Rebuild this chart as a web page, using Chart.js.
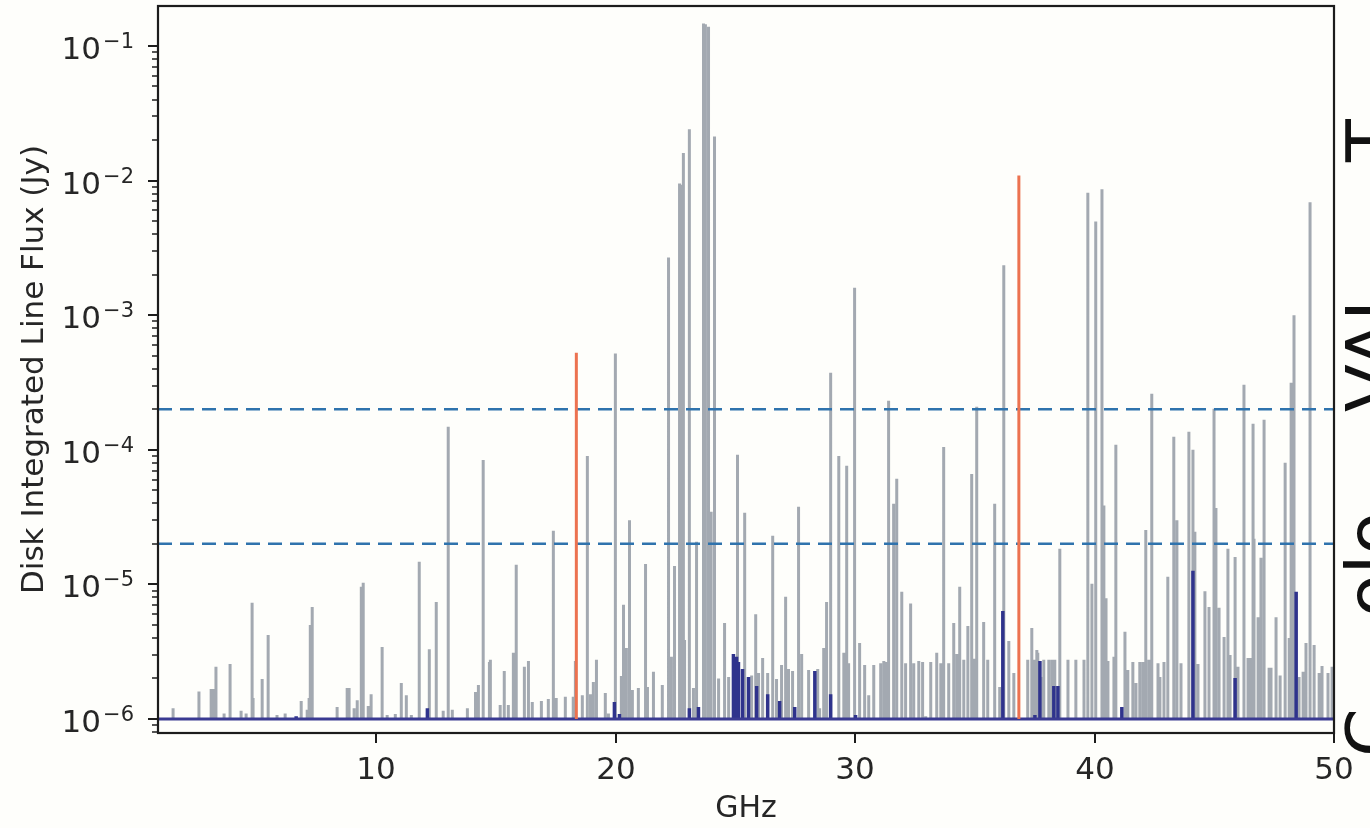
<!DOCTYPE html>
<html><head><meta charset="utf-8">
<script src="https://cdn.jsdelivr.net/npm/chart.js@4.4.0/dist/chart.umd.min.js"></script>
<style>html,body{margin:0;padding:0;background:#fefefb;overflow:hidden}</style>
</head><body>
<canvas id="c" width="1370" height="828"></canvas>
<script>
// ---- data (GHz, Jy) ----
const grayFreq = [1.52,2.60,3.11,3.19,3.31,3.65,3.90,4.36,4.57,4.82,4.86,5.24,5.49,5.86,6.20,6.87,7.12,7.20,7.25,7.33,
8.37,8.79,8.87,9.08,9.21,9.38,9.46,9.67,9.79,10.25,10.46,10.80,11.05,11.26,11.47,11.80,12.22,12.51,12.80,13.01,
13.18,13.81,14.15,14.27,14.47,14.73,14.77,15.18,15.35,15.52,15.73,15.85,16.19,16.36,16.52,16.90,17.19,17.40,17.52,17.90,
18.23,18.32,18.61,18.82,18.95,19.07,19.20,19.57,19.70,19.99,20.24,20.33,20.45,20.58,20.70,20.95,21.25,21.33,21.58,21.95,
22.21,22.33,22.46,22.67,22.75,22.83,22.88,23.08,23.25,23.38,23.67,23.75,23.88,23.99,24.13,24.30,24.55,24.72,25.09,25.39,
25.68,25.85,25.97,26.14,26.35,26.56,26.72,26.93,27.10,27.22,27.39,27.64,27.77,28.06,28.44,28.52,28.69,28.81,28.98,29.32,
29.53,29.65,29.73,29.98,30.19,30.40,30.57,30.78,31.07,31.20,31.28,31.40,31.61,31.74,31.95,32.11,32.32,32.45,32.66,32.82,
32.95,33.16,33.41,33.58,33.70,33.91,34.12,34.25,34.37,34.54,34.71,34.87,34.96,35.08,35.37,35.54,35.83,36.04,36.21,36.42,
36.63,37.21,37.38,37.47,37.59,37.63,37.84,37.88,38.09,38.22,38.34,38.55,38.89,39.22,39.56,39.72,39.89,40.05,40.31,40.39,
40.48,40.56,40.81,40.89,41.27,41.39,41.60,41.73,41.89,42.02,42.14,42.27,42.39,42.65,42.73,42.90,43.06,43.31,43.44,43.61,
43.94,44.11,44.19,44.32,44.61,44.78,44.99,45.07,45.20,45.41,45.57,45.66,45.87,45.99,46.24,46.41,46.53,46.62,46.66,46.83,
46.95,47.08,47.29,47.37,47.58,47.75,47.96,48.13,48.21,48.33,48.54,48.71,48.83,49.00,49.17,49.38,49.50,49.75,49.92];
const grayFlux = [1.2e-6,1.6e-6,1.67e-6,1.67e-6,2.44e-6,1.1e-6,2.56e-6,1.15e-6,1.1e-6,7.3e-6,1.43e-6,1.98e-6,4.2e-6,1.07e-6,1.1e-6,1.36e-6,1.17e-6,1.43e-6,5.0e-6,6.8e-6,
1.23e-6,1.7e-6,1.7e-6,1.2e-6,1.38e-6,9.6e-6,1.03e-5,1.25e-6,1.53e-6,3.43e-6,1.07e-6,1.09e-6,1.85e-6,1.5e-6,1.07e-6,1.47e-5,3.3e-6,7.4e-6,1.15e-6,1.48e-4,
1.17e-6,1.2e-6,1.59e-6,1.79e-6,8.4e-5,2.65e-6,2.75e-6,1.27e-6,2.27e-6,1.27e-6,3.1e-6,1.4e-5,2.44e-6,2.7e-6,1.34e-6,1.36e-6,1.41e-6,2.5e-5,1.43e-6,1.46e-6,
1.46e-6,2.7e-6,1.5e-6,9.0e-5,1.53e-6,1.88e-6,2.75e-6,1.56e-6,1.1e-6,5.2e-4,2.09e-6,7.05e-6,3.37e-6,3.0e-5,1.64e-6,1.7e-6,1.42e-5,1.73e-6,2.24e-6,1.79e-6,
2.68e-3,2.9e-6,1.37e-5,9.5e-3,9.3e-3,1.6e-2,3.87e-6,2.4e-2,1.7e-6,2.07e-5,0.147,0.145,0.139,3.46e-5,2.12e-2,2.0e-6,5.17e-6,2.05e-6,9.2e-5,3.4e-5,
2.1e-6,6.0e-6,2.2e-6,2.84e-6,2.2e-6,2.3e-5,1.98e-6,2.52e-6,8.1e-6,2.35e-6,2.27e-6,3.77e-5,3.04e-6,2.31e-6,2.35e-6,1.2e-6,3.37e-6,7.4e-6,3.74e-4,9.0e-5,
3.1e-6,7.6e-5,2.6e-6,1.6e-3,3.67e-6,2.52e-6,1.5e-6,2.52e-6,2.6e-6,2.7e-6,2.65e-6,2.31e-4,3.97e-5,6.1e-5,8.8e-6,2.6e-6,7.2e-6,2.6e-6,2.7e-6,2.65e-6,
1.05e-6,2.65e-6,3.1e-6,2.6e-6,1.05e-4,2.6e-6,5.17e-6,3.04e-6,9.6e-6,2.75e-6,4.9e-6,6.6e-5,2.8e-6,2.09e-4,5.26e-6,2.75e-6,3.97e-5,1.73e-6,2.35e-3,3.8e-6,
2.2e-6,2.75e-6,4.75e-6,2.75e-6,3.26e-6,3.1e-6,2.05e-6,2.75e-6,2.75e-6,2.75e-6,2.75e-6,1.84e-5,2.75e-6,2.75e-6,2.75e-6,8.1e-3,1.01e-5,4.96e-3,8.6e-3,3.85e-5,
7.9e-6,2.7e-6,2.9e-6,1.09e-4,4.44e-6,2.31e-6,2.65e-6,1.85e-6,2.65e-6,2.65e-6,2.54e-5,2.75e-6,2.61e-4,2.6e-6,2.05e-6,2.65e-6,1.14e-5,1.25e-4,3.0e-5,2.6e-6,
1.36e-4,1.0e-4,2.46e-5,2.56e-6,8.9e-6,6.8e-6,2.02e-4,3.7e-5,6.7e-6,4.07e-6,1.84e-5,2.99e-6,1.6e-5,2.44e-6,3.04e-4,2.84e-6,2.84e-6,1.56e-4,2.18e-5,5.7e-6,
1.58e-5,1.67e-4,2.4e-6,2.4e-6,5.7e-6,2.1e-6,8.0e-5,4.0e-6,3.15e-4,1.0e-3,2.05e-6,2.24e-6,3.67e-6,6.9e-3,3.55e-6,2.2e-6,2.48e-6,2.2e-6,2.44e-6];

const darkFreq = [6.66,12.14,19.95,20.16,23.08,23.46,24.92,25.05,25.13,25.30,25.55,25.89,26.35,26.85,27.48,28.32,28.98,30.02,
36.17,37.51,37.72,38.30,38.47,41.14,44.11,45.87,48.42];
const darkFlux = [1.05e-6,1.2e-6,1.34e-6,1.09e-6,1.2e-6,1.23e-6,3.04e-6,2.9e-6,2.65e-6,2.35e-6,2.05e-6,1.76e-6,1.53e-6,1.36e-6,1.23e-6,2.27e-6,1.53e-6,1.07e-6,
6.35e-6,1.07e-6,2.7e-6,1.76e-6,1.76e-6,1.23e-6,1.26e-5,2.02e-6,8.8e-6];

const orangeFreq = [18.36, 36.84];
const orangeFlux = [5.26e-4, 1.09e-2];

const thresholdFlux = [2e-4, 2e-5];
const baseFlux = 1e-6;
const xRange = [0.89, 50];
const yRange = [7.87e-7, 0.198];
const xTickValues = [10, 20, 30, 40, 50];
const yTickExponents = [-6, -5, -4, -3, -2, -1];

// ---- build line data for spikes ----
function spikes(freqs, fluxes) {
  const pts = [];
  freqs.forEach((f, i) => { pts.push({x: f, y: baseFlux}, {x: f, y: fluxes[i]}, {x: f, y: null}); });
  return pts;
}
function hline(v) { return [{x: xRange[0], y: v}, {x: xRange[1], y: v}]; }

const TXT = '#262626';
const FONT = '"DejaVu Sans", sans-serif';
const supMap = {'-':'\u2212','0':'0','1':'1','2':'2','3':'3','4':'4','5':'5','6':'6','7':'7','8':'8','9':'9'};

const deco = {
  id: 'deco',
  beforeDraw(chart) {
    const c = chart.ctx;
    c.save(); c.fillStyle = '#fefefb'; c.fillRect(0, 0, chart.width, chart.height); c.restore();
  },
  afterDraw(chart) {
    const c = chart.ctx, a = chart.chartArea;
    const ys = chart.scales.y, xs = chart.scales.x;
    c.save();
    c.strokeStyle = '#1c1c1c';
    // y ticks (major + minor)
    for (let e = -7; e <= 0; e++) {
      for (let m = 1; m <= 9; m++) {
        const v = m * Math.pow(10, e);
        if (v < ys.min || v > ys.max) continue;
        const y = Math.round(ys.getPixelForValue(v));
        const len = m === 1 ? 10 : 6;
        c.lineWidth = m === 1 ? 2 : 1.5;
        c.beginPath(); c.moveTo(a.left - len, y); c.lineTo(a.left, y); c.stroke();
      }
    }
    // y labels 10^e
    c.fillStyle = TXT;
    c.textBaseline = 'alphabetic';
    c.textAlign = 'left';
    yTickExponents.forEach(e => {
      const y = ys.getPixelForValue(Math.pow(10, e));
      const sup = String(e).split('').map(ch => supMap[ch]).join('');
      c.font = '31px ' + FONT;
      const wMain = c.measureText('10').width;
      c.font = '21px ' + FONT;
      const wSup = c.measureText(sup).width;
      const x0 = 134 - wMain - wSup - 2;
      c.font = '31px ' + FONT;
      c.fillText('10', x0, y + 13);
      c.font = '21px ' + FONT;
      c.fillText(sup, x0 + wMain + 2, y + 2);
    });
    // x ticks and labels
    c.lineWidth = 2;
    c.font = '31px ' + FONT;
    c.textAlign = 'center';
    xTickValues.forEach(v => {
      const x = Math.round(xs.getPixelForValue(v));
      c.beginPath(); c.moveTo(x, a.bottom); c.lineTo(x, a.bottom + 10); c.stroke();
      c.fillText(String(v), x, 779);
    });
    // spines
    c.lineWidth = 2.2;
    c.strokeRect(a.left, a.top, a.right - a.left, a.bottom - a.top);
    // cropped rotated text at right edge
    c.fillStyle = '#111';
    c.font = '70px ' + FONT;
    c.textAlign = 'left';
    c.textBaseline = 'alphabetic';
    const frags = [['C', 757], ['olo', 617], ['VAL', 412], ['T', 162]];
    frags.forEach(([t, y]) => {
      c.save(); c.translate(1396, y); c.rotate(-Math.PI / 2); c.fillText(t, 0, 0); c.restore();
    });
    c.restore();
  }
};

const common = {pointRadius: 0, pointHoverRadius: 0, tension: 0, fill: false, spanGaps: false, borderCapStyle: 'butt'};

new Chart(document.getElementById('c'), {
  type: 'line',
  data: {
    datasets: [
      Object.assign({label: 'orange', data: spikes(orangeFreq, orangeFlux), borderColor: '#ec7250', borderWidth: 3}, common),
      Object.assign({label: 't1', data: hline(thresholdFlux[0]), borderColor: '#2f73ad', borderWidth: 2.5, borderDash: [14, 8]}, common),
      Object.assign({label: 't2', data: hline(thresholdFlux[1]), borderColor: '#2f73ad', borderWidth: 2.5, borderDash: [14, 8]}, common),
      Object.assign({label: 'base', data: hline(baseFlux), borderColor: '#3a3a92', borderWidth: 3}, common),
      Object.assign({label: 'dark', data: spikes(darkFreq, darkFlux), borderColor: '#2f338c', borderWidth: 3.5}, common),
      Object.assign({label: 'gray', data: spikes(grayFreq, grayFlux), borderColor: '#a3a9b1', borderWidth: 3}, common)
    ]
  },
  options: {
    responsive: false,
    animation: false,
    devicePixelRatio: 1,
    layout: {padding: {top: 6, right: 36, left: 0, bottom: 0}},
    plugins: {legend: {display: false}, tooltip: {enabled: false}},
    scales: {
      x: {
        type: 'linear', min: xRange[0], max: xRange[1],
        afterBuildTicks: s => { s.ticks = xTickValues.map(v => ({value: v})); },
        afterFit: s => { s.height = 95; },
        grid: {display: false},
        border: {display: false},
        ticks: {display: false},
        title: {display: true, text: 'GHz', color: TXT, font: {family: FONT, size: 30}, padding: {top: 0, bottom: 1}}
      },
      y: {
        type: 'logarithmic', min: yRange[0], max: yRange[1],
        afterFit: s => { s.width = 158; },
        grid: {display: false},
        border: {display: false},
        ticks: {display: false},
        title: {display: true, text: 'Disk Integrated Line Flux (Jy)', color: TXT, font: {family: FONT, size: 31}, padding: {top: 16, bottom: 0}}
      }
    }
  },
  plugins: [deco]
});
</script>
</body></html>
